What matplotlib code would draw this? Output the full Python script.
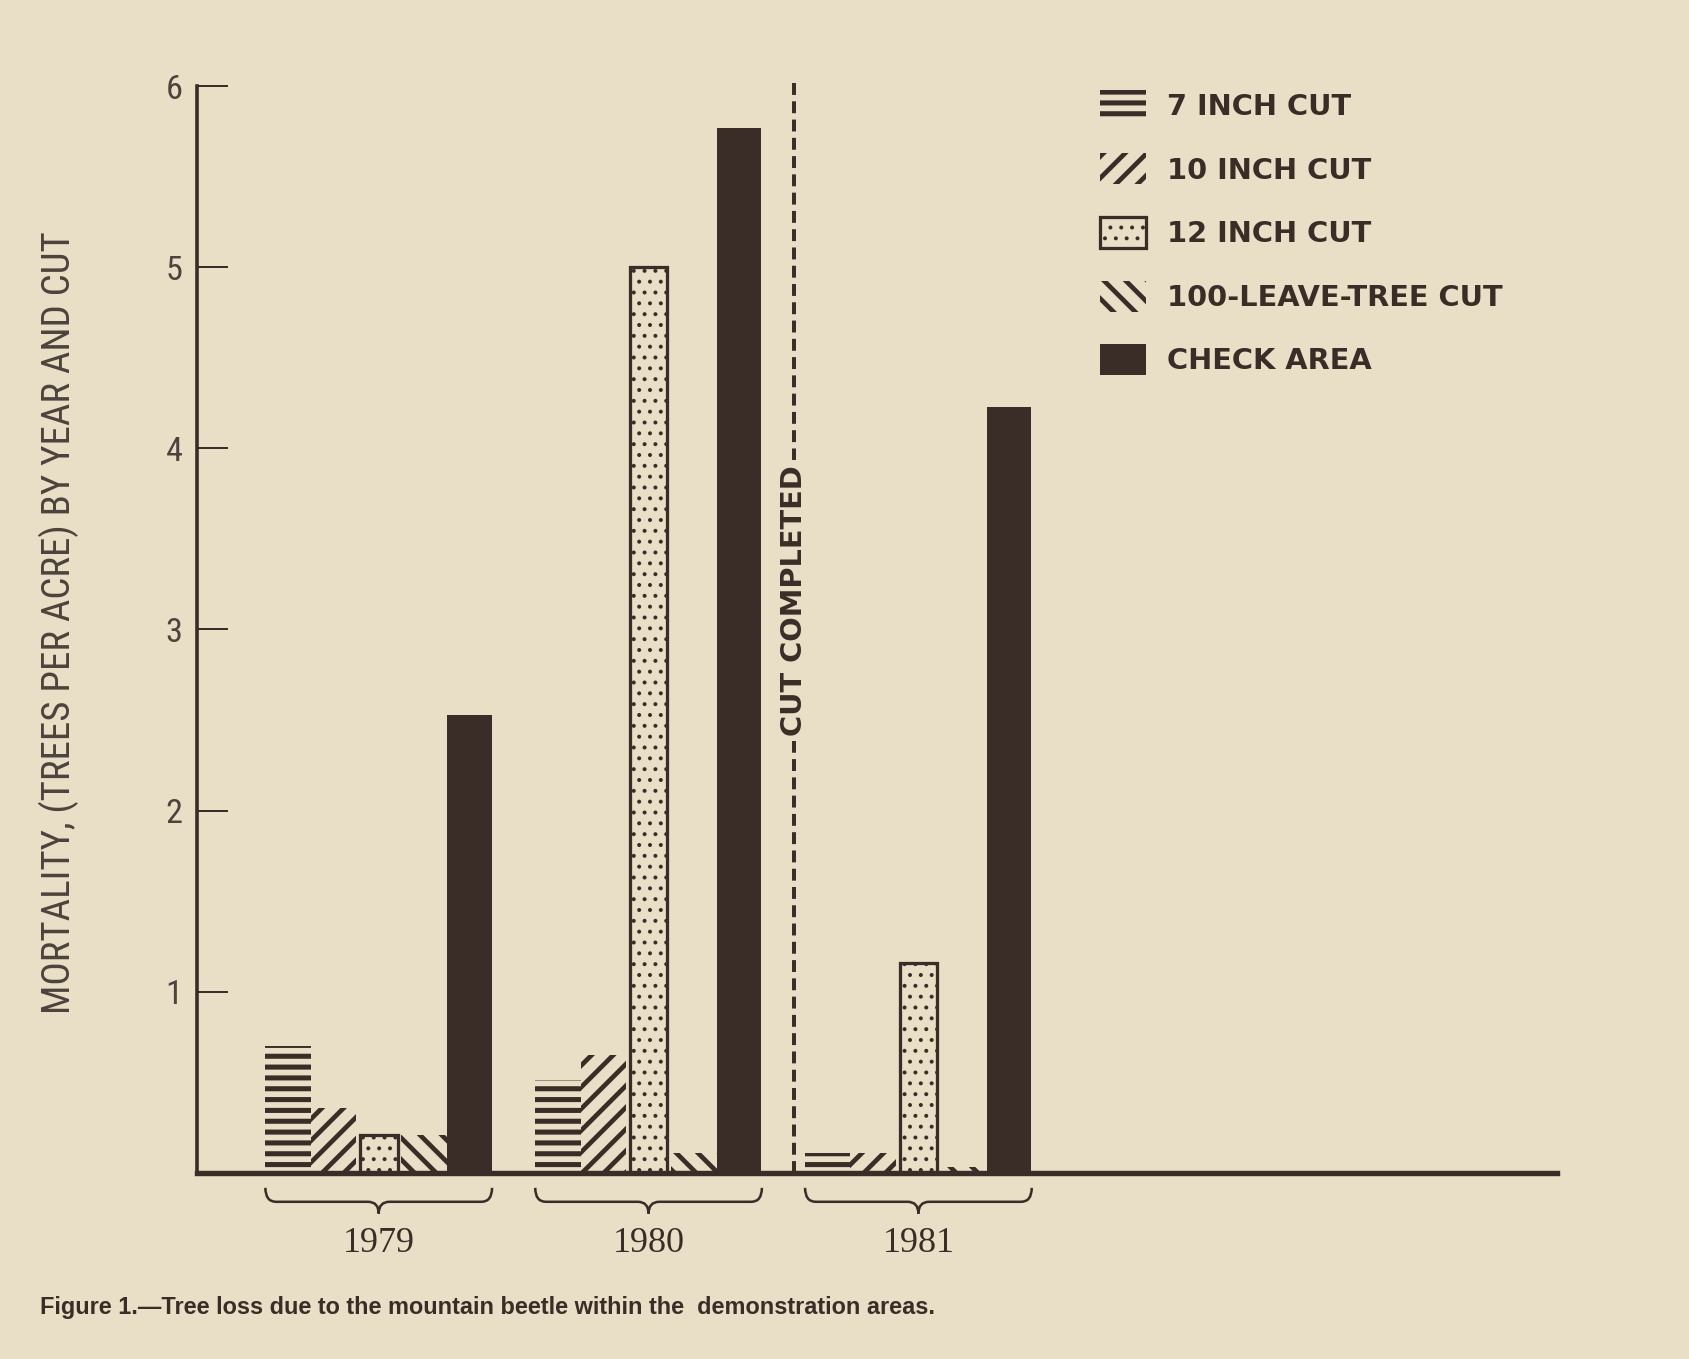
import numpy as np
import matplotlib
matplotlib.use("Agg")
import matplotlib.pyplot as plt
from matplotlib import font_manager
from matplotlib.path import Path
from matplotlib.patches import PathPatch

# Tree mortality (trees per acre) by year and cut
years = ["1979", "1980", "1981"]
cuts = ["7 INCH CUT", "10 INCH CUT", "12 INCH CUT", "100-LEAVE-TREE CUT", "CHECK AREA"]
inch7 = [0.70, 0.51, 0.11]
inch10 = [0.36, 0.65, 0.11]
inch12 = [0.21, 5.00, 1.16]
leave100 = [0.21, 0.11, 0.03]
check = [2.53, 5.77, 4.23]
yticks = [1, 2, 3, 4, 5, 6]

bg = "#e9dfc7"
dark = "#3a2d27"
grey = "#4d433c"

names = {f.name for f in font_manager.fontManager.ttflist}
def pick(*cands):
    for n in cands:
        if n in names:
            return n
    return "DejaVu Sans"

narrow = pick("Liberation Sans Narrow", "Roboto Condensed", "DejaVu Sans Condensed", "Roboto")
serif = pick("Liberation Serif", "DejaVu Serif")
sans = pick("Liberation Sans", "DejaVu Sans")

plt.rcParams["hatch.color"] = dark
plt.rcParams["hatch.linewidth"] = 2.5

dpi = 130
fig = plt.figure(figsize=(1689 / dpi, 1359 / dpi), dpi=dpi, facecolor=bg)
ax = fig.add_axes([0.1167, 0.137, 0.8049, 0.7996])
ax.set_facecolor(bg)

series = [inch7, inch10, inch12, leave100, check]
hatches = ["--", "//", "..", "\\\\", None]
hatch_lw = [2.8, 2.6, 1.0, 2.6, 1.0]
widths = [0.168, 0.168, 0.14, 0.168, 0.165]
step = 0.168
x = np.arange(len(years))

for i, vals in enumerate(series):
    face = dark if hatches[i] is None else bg
    lw = 1.8 if i == 2 else 0
    with plt.rc_context({"hatch.linewidth": hatch_lw[i]}):
        bars = ax.bar(x + (i - 2) * step, vals, widths[i], color=face,
                      edgecolor=dark, linewidth=lw, hatch=hatches[i],
                      label=cuts[i], zorder=2)
    for b in bars:
        if hasattr(b, "set_hatch_linewidth"):
            b.set_hatch_linewidth(hatch_lw[i])

ax.set_xlim(-0.673, 4.365)
ax.set_ylim(0, 6)
ax.set_yticks(yticks)
ax.set_xticks(x, years)
for s in ["top", "right"]:
    ax.spines[s].set_visible(False)
ax.spines["left"].set_linewidth(2)
ax.spines["bottom"].set_linewidth(3)
ax.spines["left"].set_color(dark)
ax.spines["bottom"].set_color(dark)
ax.tick_params(axis="y", direction="in", length=17, width=1.1, pad=8,
               colors=dark, labelcolor=grey)
ax.tick_params(axis="x", length=0, pad=30, labelcolor=dark)
for t in ax.get_yticklabels():
    t.set_fontfamily(narrow)
    t.set_fontsize(19)
for t in ax.get_xticklabels():
    t.set_fontfamily(serif)
    t.set_fontsize(20)

ax.set_ylabel("MORTALITY, (TREES PER ACRE) BY YEAR AND CUT", fontfamily=narrow,
              fontsize=21.5, color=grey, va="center")
ax.yaxis.set_label_coords(-0.1015, 0.5065)

# braces under each year group
half = 2.5 * step
for xc in x:
    x0, x1 = xc - half, xc + half
    r = 0.04
    yt, ym, yp = -0.083, -0.16, -0.225
    verts = [(x0, yt), (x0, ym), (x0 + r, ym), (xc - r, ym), (xc, ym), (xc, yp),
             (xc, ym), (xc + r, ym), (x1 - r, ym), (x1, ym), (x1, yt)]
    codes = [Path.MOVETO, Path.CURVE3, Path.CURVE3, Path.LINETO, Path.CURVE3, Path.CURVE3,
             Path.CURVE3, Path.CURVE3, Path.LINETO, Path.CURVE3, Path.CURVE3]
    ax.add_patch(PathPatch(Path(verts, codes), fill=False, edgecolor=dark, lw=1.4,
                           clip_on=False))

# cut completed marker
ax.plot([1.54, 1.54], [0, 6.03], color=dark, lw=2.2, dashes=(3, 1.6),
        clip_on=False, zorder=3)
ax.text(1.54, 3.16, "CUT COMPLETED", rotation=90, ha="center", va="center",
        fontfamily="DejaVu Sans", fontweight="bold", fontsize=16, color=dark,
        bbox=dict(facecolor=bg, edgecolor="none", pad=3), zorder=4)

fs = 16
fs_px = fs * dpi / 72
leg = ax.legend(loc="upper left", bbox_to_anchor=(0.6513, 0.934),
                bbox_transform=fig.transFigure, frameon=False, borderpad=0,
                borderaxespad=0, handlelength=46 / fs_px, handleheight=37 / fs_px,
                labelspacing=1.12, handletextpad=0.72, labelcolor=dark,
                prop=dict(family="DejaVu Sans", weight="bold", size=fs))
for h, hl in zip(leg.legend_handles, hatch_lw):
    if hasattr(h, "set_hatch_linewidth"):
        h.set_hatch_linewidth(hl)

fig.text(0.0237, 0.038,
         "Figure 1.\u2014Tree loss due to the mountain beetle within the  demonstration areas.",
         fontfamily=sans, fontweight="bold", fontsize=13, color=dark, va="center")

fig.savefig("out.png", dpi=dpi, facecolor=bg)
